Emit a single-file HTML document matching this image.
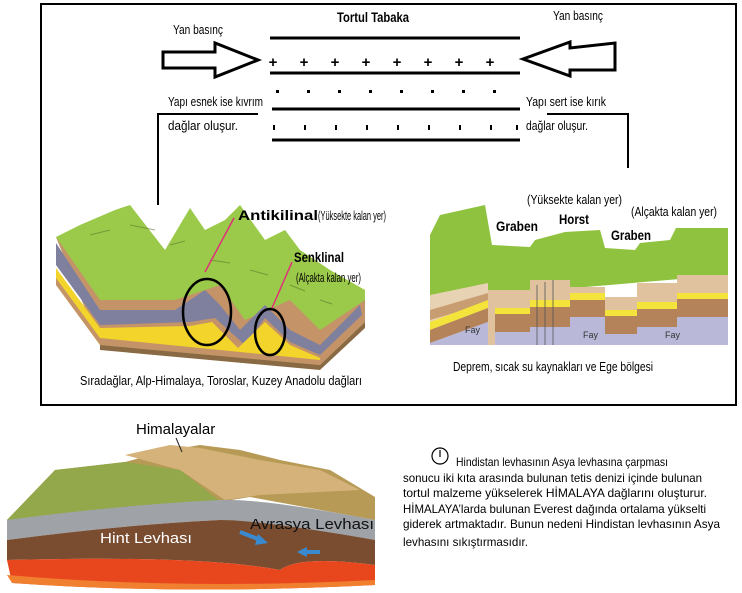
<!DOCTYPE html>
<html><head><meta charset="utf-8"><style>
html,body{margin:0;padding:0;background:#fff;}
svg{display:block;}
text{font-family:"Liberation Sans",sans-serif;}
.c{font-family:"Liberation Sans",sans-serif;}
</style></head><body>
<svg width="742" height="593" viewBox="0 0 742 593" xmlns="http://www.w3.org/2000/svg">
<rect x="0" y="0" width="742" height="593" fill="#fff"/>
<rect x="41" y="4" width="695" height="401" fill="none" stroke="#000" stroke-width="2"/>

<text x="337" y="22" font-size="14" font-weight="bold" textLength="72" lengthAdjust="spacingAndGlyphs">Tortul Tabaka</text>
<text x="173" y="34" font-size="13" textLength="50" lengthAdjust="spacingAndGlyphs">Yan basınç</text>
<text x="553" y="20" font-size="13" textLength="50" lengthAdjust="spacingAndGlyphs">Yan basınç</text>
<g stroke="#000" stroke-width="3">
<line x1="270" y1="38" x2="520" y2="38"/>
<line x1="270" y1="73" x2="520" y2="73"/>
<line x1="272" y1="109" x2="520" y2="109"/>
<line x1="272" y1="140" x2="520" y2="140"/>
</g>
<g font-size="15" font-weight="bold" text-anchor="middle">
<text x="273" y="67">+</text><text x="304" y="67">+</text><text x="335" y="67">+</text><text x="366" y="67">+</text>
<text x="397" y="67">+</text><text x="428" y="67">+</text><text x="459" y="67">+</text><text x="490" y="67">+</text>
</g>
<g fill="#000">
<rect x="276" y="90" width="3" height="3"/><rect x="307" y="90" width="3" height="3"/><rect x="338" y="90" width="3" height="3"/><rect x="369" y="90" width="3" height="3"/>
<rect x="400" y="90" width="3" height="3"/><rect x="431" y="90" width="3" height="3"/><rect x="462" y="90" width="3" height="3"/><rect x="493" y="90" width="3" height="3"/>
<rect x="273" y="125" width="2" height="5"/><rect x="304" y="125" width="2" height="5"/><rect x="335" y="125" width="2" height="5"/><rect x="366" y="125" width="2" height="5"/>
<rect x="397" y="125" width="2" height="5"/><rect x="428" y="125" width="2" height="5"/><rect x="459" y="125" width="2" height="5"/><rect x="490" y="125" width="2" height="5"/><rect x="516" y="125" width="2" height="5"/>
</g>
<polygon points="163,52 215,52 215,43 258,60 215,77 215,68 163,68" fill="#fff" stroke="#000" stroke-width="3"/>
<polygon points="615,43 615,70 570,70 570,76 523,59 570,42 570,48" fill="#fff" stroke="#000" stroke-width="3"/>
<polyline points="258,114 158,114 158,205" fill="none" stroke="#000" stroke-width="2"/>
<polyline points="547,114 628,114 628,168" fill="none" stroke="#000" stroke-width="2"/>
<text x="168" y="106" font-size="13" textLength="95" lengthAdjust="spacingAndGlyphs">Yapı esnek ise kıvrım</text>
<text x="168" y="130" font-size="13" textLength="70" lengthAdjust="spacingAndGlyphs">dağlar oluşur.</text>
<text x="526" y="106" font-size="13" textLength="80" lengthAdjust="spacingAndGlyphs">Yapı sert ise kırık</text>
<text x="526" y="130" font-size="13" textLength="62" lengthAdjust="spacingAndGlyphs">dağlar oluşur.</text>

<g>
<polygon points="56,237 100,345 320,365 365,322 365,290 330,270 300,250 285,230 265,240 240,205 225,220 205,230 190,208 165,250 130,205 115,210 80,225" fill="#9bc94a"/>
<polygon points="56,237 100,300 175,300 220,285 245,320 290,300 320,330 365,300 365,322 320,365 100,345" fill="#c49468"/>
<polygon points="56,243 100,310 175,310 205,290 220,305 240,330 265,305 290,330 320,345 360,305 362,315 320,355 290,342 265,318 245,345 215,318 190,322 100,325 56,265" fill="#7f7f9e"/>
<polygon points="56,268 100,328 190,326 212,322 238,348 265,322 290,345 320,358 320,365 100,345 56,285" fill="#f2d42a"/>
<polygon points="56,285 100,345 320,365 320,360 100,338 56,278" fill="#c49468"/>
<polygon points="100,345 320,365 365,322 365,328 320,370 100,350" fill="#8a6a44"/>
<g fill="none" stroke="#5a7a2a" stroke-width="1" opacity="0.6">
<path d="M90,235 l20,-5 M130,225 l25,5 M170,245 l15,-4 M210,260 l20,3 M250,270 l18,5 M290,285 l15,6 M320,300 l12,4"/>
</g>
<ellipse cx="207" cy="312" rx="24" ry="33" fill="none" stroke="#000" stroke-width="2.5"/>
<ellipse cx="270" cy="332" rx="15" ry="23" fill="none" stroke="#000" stroke-width="2.5"/>
<line x1="234" y1="218" x2="205" y2="272" stroke="#e0307a" stroke-width="1.5"/>
<line x1="292" y1="262" x2="272" y2="308" stroke="#e0307a" stroke-width="1.5"/>
</g>
<text x="238" y="220" font-size="14" font-weight="bold" class="c" textLength="80" lengthAdjust="spacingAndGlyphs">Antikilinal</text>
<text x="318" y="220" font-size="13" class="c" textLength="68" lengthAdjust="spacingAndGlyphs">(Yüksekte kalan yer)</text>
<text x="294" y="262" font-size="14" font-weight="bold" class="c" textLength="50" lengthAdjust="spacingAndGlyphs">Senklinal</text>
<text x="296" y="282" font-size="13" class="c" textLength="65" lengthAdjust="spacingAndGlyphs">(Alçakta kalan yer)</text>
<text x="80" y="385" font-size="13" class="c" textLength="282" lengthAdjust="spacingAndGlyphs">Sıradağlar, Alp-Himalaya, Toroslar, Kuzey Anadolu dağları</text>

<g>
<polygon points="430,235 440,215 485,205 492,245 530,247 535,240 565,232 600,230 605,248 635,250 640,243 670,240 676,228 728,228 728,275 430,300" fill="#8fc23e"/>
<polygon points="430,295 488,283 488,345 430,345" fill="#e8d2b4"/>
<polygon points="430,310 488,293 488,303 430,320" fill="#c99d72"/>
<polygon points="430,322 488,300 488,308 430,330" fill="#f3e33a"/>
<polygon points="430,330 488,308 488,322 430,343" fill="#b5835a"/>
<polygon points="430,343 488,322 500,345 430,345" fill="#b9b8d8"/>
<rect x="488" y="290" width="42" height="55" fill="#e0c39e"/>
<rect x="495" y="308" width="35" height="6" fill="#f3e33a"/>
<rect x="495" y="314" width="35" height="18" fill="#b5835a"/>
<rect x="495" y="332" width="35" height="13" fill="#b9b8d8"/>
<rect x="530" y="280" width="40" height="65" fill="#e0c39e"/>
<rect x="530" y="300" width="40" height="7" fill="#f3e33a"/>
<rect x="530" y="307" width="40" height="20" fill="#b5835a"/>
<rect x="530" y="327" width="40" height="18" fill="#b9b8d8"/>
<line x1="537" y1="285" x2="537" y2="345" stroke="#555" stroke-width="0.8"/><line x1="545" y1="282" x2="545" y2="345" stroke="#555" stroke-width="0.8"/><line x1="553" y1="280" x2="553" y2="345" stroke="#555" stroke-width="0.8"/>
<rect x="570" y="287" width="35" height="58" fill="#e0c39e"/>
<rect x="570" y="293" width="35" height="7" fill="#f3e33a"/>
<rect x="570" y="300" width="35" height="17" fill="#b5835a"/>
<rect x="570" y="317" width="35" height="28" fill="#b9b8d8"/>
<rect x="605" y="297" width="32" height="48" fill="#e0c39e"/>
<rect x="605" y="310" width="32" height="6" fill="#f3e33a"/>
<rect x="605" y="316" width="32" height="18" fill="#b5835a"/>
<rect x="605" y="334" width="32" height="11" fill="#b9b8d8"/>
<rect x="637" y="283" width="40" height="62" fill="#e0c39e"/>
<rect x="637" y="302" width="40" height="7" fill="#f3e33a"/>
<rect x="637" y="309" width="40" height="18" fill="#b5835a"/>
<rect x="637" y="327" width="40" height="18" fill="#b9b8d8"/>
<rect x="677" y="275" width="51" height="70" fill="#e0c39e"/>
<rect x="677" y="293" width="51" height="6" fill="#f3e33a"/>
<rect x="677" y="299" width="51" height="18" fill="#b5835a"/>
<rect x="677" y="317" width="51" height="28" fill="#b9b8d8"/>
</g>
<g font-size="9" fill="#333" class="c"><text x="465" y="333">Fay</text><text x="583" y="338">Fay</text><text x="665" y="338">Fay</text></g>
<text x="527" y="204" font-size="13" class="c" textLength="95" lengthAdjust="spacingAndGlyphs">(Yüksekte kalan yer)</text>
<text x="631" y="216" font-size="13" class="c" textLength="86" lengthAdjust="spacingAndGlyphs">(Alçakta kalan yer)</text>
<text x="496" y="231" font-size="14" font-weight="bold" class="c" textLength="42" lengthAdjust="spacingAndGlyphs">Graben</text>
<text x="559" y="224" font-size="14" font-weight="bold" class="c" textLength="30" lengthAdjust="spacingAndGlyphs">Horst</text>
<text x="611" y="240" font-size="14" font-weight="bold" class="c" textLength="40" lengthAdjust="spacingAndGlyphs">Graben</text>
<text x="453" y="371" font-size="13" class="c" textLength="200" lengthAdjust="spacingAndGlyphs">Deprem, sıcak su kaynakları ve Ege bölgesi</text>

<g>
<polygon points="7,520 55,470 125,462 170,450 200,445 240,450 280,460 330,470 375,497 375,520 250,497 200,505" fill="#b79a56"/>
<polygon points="7,520 55,470 125,462 180,470 225,505 200,505" fill="#92a84a"/>
<polygon points="125,455 170,445 200,448 260,460 320,470 360,490 260,495 225,500 180,470" fill="#d4b27a"/>
<path d="M7,520 Q120,505 220,500 Q260,498 375,520 L375,540 Q250,520 220,520 Q120,525 7,540 Z" fill="#9fa3a8"/>
<path d="M7,540 Q120,525 220,520 Q260,520 375,540 L375,565 Q300,555 280,570 Q200,555 7,560 Z" fill="#7a4d30"/>
<path d="M7,560 Q200,555 280,570 Q300,555 375,565 L375,585 Q180,595 12,583 Z" fill="#e8471e"/>
<path d="M7,575 Q180,590 375,580 L375,585 Q180,595 12,583 Z" fill="#f08030"/>
<path d="M240,532 l18,7" stroke="#3a8ad0" stroke-width="4"/><polygon points="258,534 268,543 255,545" fill="#3a8ad0"/>
<path d="M320,552 l-15,0" stroke="#3a8ad0" stroke-width="4"/><polygon points="307,547 297,552 307,557" fill="#3a8ad0"/>
<line x1="176" y1="438" x2="182" y2="452" stroke="#222" stroke-width="1"/>
</g>
<text x="136" y="434" font-size="15">Himalayalar</text>
<text x="100" y="543" font-size="15" fill="#fff" textLength="92" lengthAdjust="spacingAndGlyphs">Hint Levhası</text>
<text x="250" y="529" font-size="15" fill="#111" textLength="124" lengthAdjust="spacingAndGlyphs">Avrasya Levhası</text>

<circle cx="440" cy="456" r="8" fill="none" stroke="#000" stroke-width="1.2"/>
<line x1="440" y1="450" x2="440" y2="457" stroke="#000" stroke-width="1.2"/>
<g font-size="12">
<text x="456" y="466" textLength="212" lengthAdjust="spacingAndGlyphs">Hindistan levhasının Asya levhasına çarpması</text>
<text x="403" y="482" textLength="299" lengthAdjust="spacingAndGlyphs">sonucu iki kıta arasında bulunan tetis denizi içinde bulunan</text>
<text x="403" y="497" textLength="304" lengthAdjust="spacingAndGlyphs">tortul malzeme yükselerek HİMALAYA dağlarını oluşturur.</text>
<text x="403" y="513" textLength="303" lengthAdjust="spacingAndGlyphs">HİMALAYA’larda bulunan Everest dağında ortalama yükselti</text>
<text x="403" y="528" textLength="317" lengthAdjust="spacingAndGlyphs">giderek artmaktadır. Bunun nedeni Hindistan levhasının Asya</text>
<text x="403" y="546" textLength="125" lengthAdjust="spacingAndGlyphs">levhasını sıkıştırmasıdır.</text>
</g>
</svg>
</body></html>
